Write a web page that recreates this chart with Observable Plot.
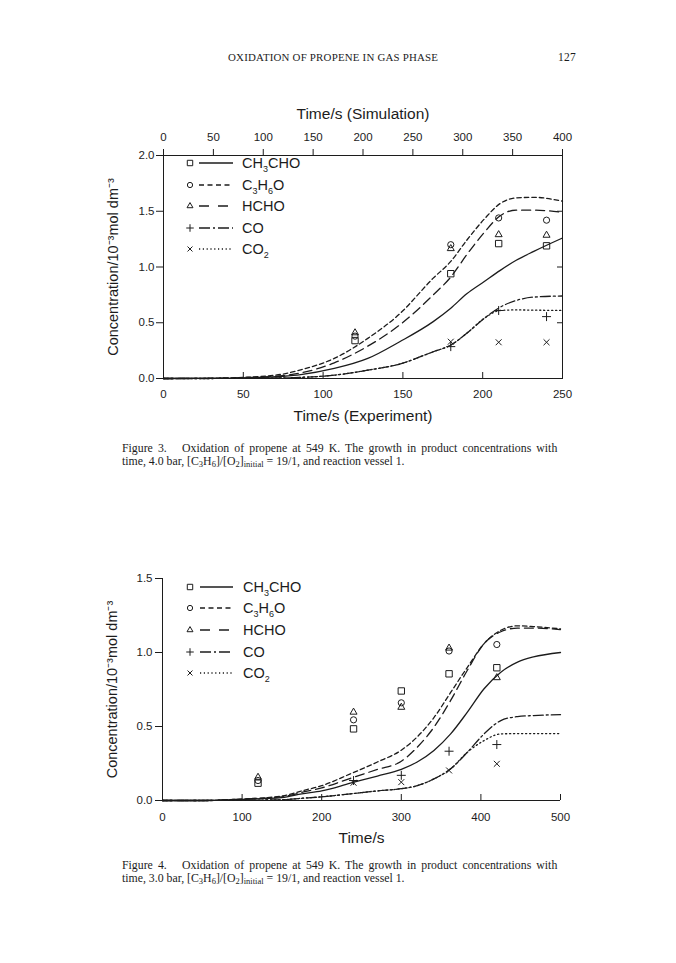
<!DOCTYPE html>
<html><head><meta charset="utf-8">
<script src="https://cdn.jsdelivr.net/npm/d3@7"></script>
<script src="https://cdn.jsdelivr.net/npm/@observablehq/plot@0.6"></script>
<style>
body{margin:0;background:#fff;}
#page{position:relative;width:676px;height:963px;overflow:hidden;background:#fff;color:#1c1c1c;font-family:"Liberation Sans",Arial,sans-serif;}
.abs{position:absolute;}
.hdr{font-family:"Liberation Serif","Times New Roman",serif;font-size:10.9px;letter-spacing:0.2px;}
.cap{position:absolute;left:122px;width:431px;font-family:"Liberation Serif","Times New Roman",serif;font-size:11.8px;line-height:12.5px;}
.cap div{white-space:nowrap;}
.cap sub{font-size:8.5px;line-height:0;vertical-align:-2px;}
</style></head>
<body>
<div id="page">
  <div class="abs hdr" style="left:228px;top:51px;">OXIDATION OF PROPENE IN GAS PHASE</div>
  <div class="abs hdr" style="left:558px;top:51px;font-size:11.5px;">127</div>
  <div id="fig3" class="abs" style="left:0;top:80px;"></div>
  <div class="cap" style="top:442px;">
    <div class="l1"><span>Figure 3.&nbsp;&nbsp; Oxidation of propene at 549 K. The growth in product concentrations with</span></div>
    <div>time, 4.0 bar, [C<sub>3</sub>H<sub>6</sub>]/[O<sub>2</sub>]<sub>initial</sub> = 19/1, and reaction vessel 1.</div>
  </div>
  <div id="fig4" class="abs" style="left:0;top:550px;"></div>
  <div class="cap" style="top:859px;">
    <div class="l1"><span>Figure 4.&nbsp;&nbsp; Oxidation of propene at 549 K. The growth in product concentrations with</span></div>
    <div>time, 3.0 bar, [C<sub>3</sub>H<sub>6</sub>]/[O<sub>2</sub>]<sub>initial</sub> = 19/1, and reaction vessel 1.</div>
  </div>
</div>
<script>
// ---------- DATA ----------
const species = ["CH3CHO", "C3H6O", "HCHO", "CO", "CO2"];
const yLabel = "Concentration/10\u207B\u00B3mol dm\u207B\u00B3";

// Figure 3 (4.0 bar) — experiment time axis 0–250 s, simulation axis 0–400 s
const fig3ExpTicks = [0, 50, 100, 150, 200, 250];
const fig3SimTicks = [0, 50, 100, 150, 200, 250, 300, 350, 400];
const fig3ExpMax = 250;
const fig3SimMax = 400;
const fig3YTicks = [0, 0.5, 1.0, 1.5, 2.0];
const fig3Time   = [0, 25, 50, 75, 86, 107, 128, 148, 169, 180, 190, 201, 211, 221, 232, 250];
const fig3CH3CHO = [0, 0.001, 0.005, 0.02, 0.035, 0.09, 0.18, 0.33, 0.51, 0.63, 0.76, 0.87, 0.97, 1.06, 1.14, 1.26];
const fig3C3H6O  = [0, 0.002, 0.01, 0.04, 0.078, 0.18, 0.36, 0.58, 0.90, 1.05, 1.24, 1.43, 1.57, 1.62, 1.625, 1.59];
const fig3HCHO   = [0, 0.001, 0.008, 0.025, 0.05, 0.14, 0.29, 0.48, 0.75, 0.91, 1.11, 1.31, 1.46, 1.51, 1.51, 1.49];
const fig3CO     = [0, 0, 0.002, 0.005, 0.01, 0.03, 0.075, 0.13, 0.24, 0.30, 0.405, 0.54, 0.64, 0.70, 0.73, 0.74];
const fig3CO2    = [0, 0, 0.002, 0.005, 0.01, 0.03, 0.075, 0.13, 0.24, 0.30, 0.405, 0.54, 0.61, 0.615, 0.613, 0.61];
const fig3PointTime   = [120, 180, 210, 240];
const fig3PtCH3CHO    = [0.34, 0.94, 1.21, 1.19];
const fig3PtC3H6O     = [0.38, 1.20, 1.44, 1.42];
const fig3PtHCHO      = [0.41, 1.165, 1.29, 1.285];
const fig3PtCO        = [null, 0.286, 0.61, 0.555];
const fig3PtCO2       = [null, 0.33, 0.325, 0.325];

// Figure 4 (3.0 bar)
const fig4XTicks = [0, 100, 200, 300, 400, 500];
const fig4YTicks = [0, 0.5, 1.0, 1.5];
const fig4Time   = [0, 50, 100, 150, 175, 200, 236, 270, 300, 320, 341, 362, 383, 404, 425, 446, 466, 500];
const fig4CH3CHO = [0, 0, 0.008, 0.02, 0.045, 0.065, 0.117, 0.165, 0.21, 0.26, 0.338, 0.45, 0.597, 0.755, 0.867, 0.935, 0.97, 1.0];
const fig4C3H6O  = [0, 0, 0.01, 0.03, 0.065, 0.1, 0.18, 0.26, 0.34, 0.43, 0.56, 0.73, 0.90, 1.06, 1.15, 1.18, 1.175, 1.16];
const fig4HCHO   = [0, 0, 0.01, 0.025, 0.055, 0.085, 0.15, 0.21, 0.265, 0.36, 0.495, 0.676, 0.88, 1.06, 1.14, 1.165, 1.165, 1.155];
const fig4CO     = [0, 0, 0.002, 0.005, 0.015, 0.025, 0.045, 0.065, 0.08, 0.10, 0.146, 0.214, 0.326, 0.45, 0.54, 0.567, 0.574, 0.58];
const fig4CO2    = [0, 0, 0.002, 0.005, 0.015, 0.025, 0.045, 0.065, 0.08, 0.10, 0.146, 0.214, 0.326, 0.405, 0.45, 0.452, 0.452, 0.452];
const fig4PointTime = [120, 240, 300, 360, 420];
const fig4PtCH3CHO  = [0.117, 0.484, 0.74, 0.856, 0.897];
const fig4PtC3H6O   = [0.135, 0.545, 0.66, 1.01, 1.054];
const fig4PtHCHO    = [0.157, 0.597, 0.63, 1.03, 0.83];
const fig4PtCO      = [null, 0.135, 0.17, 0.333, 0.378];
const fig4PtCO2     = [null, 0.12, 0.124, 0.203, 0.248];

// ---------- STYLES ----------
const ink = "#1c1c1c";
const font = "'Liberation Sans', Arial, sans-serif";
const dash = {CH3CHO: null, C3H6O: "4.5,3", HCHO: "9,5", CO: "10,3,2,3", CO2: "1.2,2.8"};
const legendDash = {CH3CHO: null, C3H6O: "5,3.5", HCHO: "10,9", CO: "11,3,2,3", CO2: "1.2,2.6"};
const sym = {CH3CHO: ["square", 3.6], C3H6O: ["circle", 3.1], HCHO: ["triangle", 2.6], CO: ["plus", 3.0], CO2: ["times", 2.8]};
const legendParts = {
  CH3CHO: [["CH", 0], ["3", 1], ["CHO", 0]],
  C3H6O: [["C", 0], ["3", 1], ["H", 0], ["6", 1], ["O", 0]],
  HCHO: [["HCHO", 0]],
  CO: [["CO", 0]],
  CO2: [["CO", 0], ["2", 1]]
};

function rows(t, v, s) {
  return t.map((x, i) => ({t: x, v: v[i], s})).filter(d => d.v != null);
}

function seriesMarks(time, curves, ptTime, pts) {
  const marks = [];
  species.forEach((s, i) => {
    marks.push(Plot.line(rows(time, curves[i], s), {
      x: "t", y: "v", curve: "monotone-x", stroke: ink, strokeWidth: 1.3,
      strokeDasharray: dash[s]
    }));
  });
  species.forEach((s, i) => {
    marks.push(Plot.dot(rows(ptTime, pts[i], s), {
      x: "t", y: "v", symbol: sym[s][0], r: sym[s][1], stroke: ink, fill: "none", strokeWidth: 1
    }));
  });
  return marks;
}

function drawLegend(svg, rowY, xSym, xL0, xL1, xText) {
  const g = d3.select(svg).append("g").attr("fill", ink).attr("font-family", font).attr("text-anchor", "start");
  const symMap = {square: d3.symbolSquare, circle: d3.symbolCircle, triangle: d3.symbolTriangle, plus: d3.symbolPlus, times: d3.symbolTimes};
  species.forEach((s, i) => {
    const y = rowY[i];
    g.append("path")
      .attr("d", d3.symbol(symMap[sym[s][0]], Math.PI * Math.pow(sym[s][1] * 0.85, 2))())
      .attr("transform", `translate(${xSym},${y})`)
      .attr("fill", "none").attr("stroke", ink).attr("stroke-width", 1);
    g.append("line").attr("x1", xL0).attr("x2", xL1).attr("y1", y).attr("y2", y)
      .attr("stroke", ink).attr("stroke-width", 1.4)
      .attr("stroke-dasharray", legendDash[s]);
    const t = g.append("text").attr("x", xText).attr("y", y + 5.2).attr("font-size", 14.5).attr("text-anchor", "start");
    let shifted = false;
    legendParts[s].forEach(([txt, sub]) => {
      const ts = t.append("tspan").text(txt);
      if (sub) { ts.attr("font-size", 9).attr("dy", 4); shifted = true; }
      else if (shifted) { ts.attr("dy", -4); shifted = false; }
    });
  });
}

// ---------- FIGURE 3 ----------
const fig3 = Plot.plot({
  width: 676, height: 360,
  marginLeft: 163, marginRight: 114, marginTop: 75, marginBottom: 62,
  x: {domain: [0, fig3ExpMax]},
  y: {domain: [0, 2]},
  style: {fontFamily: font, fontSize: "11.5px", color: ink, background: "transparent", overflow: "visible"},
  marks: [
    Plot.frame({stroke: ink, strokeWidth: 1}),
    Plot.axisX(fig3ExpTicks, {anchor: "bottom", tickSize: -6, tickPadding: 17, label: null}),
    Plot.axisX(fig3SimTicks.map(s => s * fig3ExpMax / fig3SimMax), {anchor: "top", tickSize: 7, tickPadding: 8, tickFormat: d => Math.round(d * fig3SimMax / fig3ExpMax), label: null}),
    Plot.axisY(fig3YTicks, {anchor: "left", tickSize: 7, tickPadding: 2, tickFormat: d3.format(".1f"), label: null}),
    Plot.axisY(fig3YTicks, {anchor: "right", tickSize: -6, tickFormat: () => "", label: null}),
    ...seriesMarks(fig3Time, [fig3CH3CHO, fig3C3H6O, fig3HCHO, fig3CO, fig3CO2],
                   fig3PointTime, [fig3PtCH3CHO, fig3PtC3H6O, fig3PtHCHO, fig3PtCO, fig3PtCO2]),
    Plot.text(["Time/s (Experiment)"], {frameAnchor: "bottom", dy: 42, fontSize: 15.5}),
    Plot.text(["Time/s (Simulation)"], {frameAnchor: "top", dy: -48, fontSize: 15.5}),
    Plot.text([yLabel], {frameAnchor: "left", rotate: -90, dx: -50, textAnchor: "middle", lineAnchor: "middle", fontSize: 14.5})
  ]
});
drawLegend(fig3, [83, 105, 126, 148, 169], 190, 199, 233, 242);
document.getElementById("fig3").appendChild(fig3);

// ---------- FIGURE 4 ----------
const fig4 = Plot.plot({
  width: 676, height: 310,
  marginLeft: 162, marginRight: 116, marginTop: 28, marginBottom: 60,
  x: {domain: [0, 500]},
  y: {domain: [0, 1.5]},
  style: {fontFamily: font, fontSize: "11.5px", color: ink, background: "transparent", overflow: "visible"},
  marks: [
    Plot.ruleY([0], {stroke: ink, strokeWidth: 1}),
    Plot.ruleX([0], {stroke: ink, strokeWidth: 1}),
    Plot.axisX(fig4XTicks, {anchor: "bottom", tickSize: -6, tickPadding: 18, label: null}),
    Plot.axisY(fig4YTicks, {anchor: "left", tickSize: 7, tickPadding: 3, tickFormat: d3.format(".1f"), label: null}),
    ...seriesMarks(fig4Time, [fig4CH3CHO, fig4C3H6O, fig4HCHO, fig4CO, fig4CO2],
                   fig4PointTime, [fig4PtCH3CHO, fig4PtC3H6O, fig4PtHCHO, fig4PtCO, fig4PtCO2]),
    Plot.text(["Time/s"], {frameAnchor: "bottom", dy: 42, fontSize: 15.5}),
    Plot.text([yLabel], {frameAnchor: "left", rotate: -90, dx: -50, textAnchor: "middle", lineAnchor: "middle", fontSize: 14.5})
  ]
});
drawLegend(fig4, [37, 58, 80, 102, 123], 190, 200, 233, 243);
document.getElementById("fig4").appendChild(fig4);

// justify the first caption lines to the caption width
document.querySelectorAll(".cap .l1").forEach(div => {
  const span = div.querySelector("span");
  const w = span.getBoundingClientRect().width;
  const spaces = (span.textContent.match(/ /g) || []).length;
  if (spaces) span.style.wordSpacing = ((431 - w) / spaces) + "px";
});
</script>
</body></html>
